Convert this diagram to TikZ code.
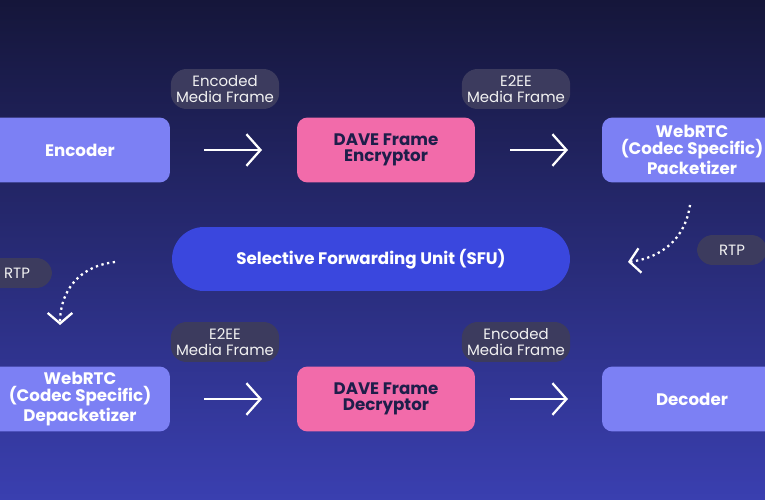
\documentclass[tikz,border=0pt]{standalone}
\usepackage{fontspec}
\setmainfont{Poppins}
\usetikzlibrary{arrows.meta}
\definecolor{navytop}{HTML}{15163A}
\definecolor{navybot}{HTML}{3A3FB0}
\definecolor{lavender}{HTML}{7C80F4}
\definecolor{rosepink}{HTML}{F26BAA}
\definecolor{sfublue}{HTML}{3A47DE}
\definecolor{pillgray}{HTML}{3C3B5E}
\definecolor{inktext}{HTML}{1E1E4A}
\begin{document}
\begin{tikzpicture}[x=0.02cm,y=-0.02cm,
    every node/.style={align=center, font=\bfseries\fontsize{9.5}{9.5}\selectfont},
    stage/.style={fill=lavender, text=white, rounded corners=6pt, minimum height=1.3cm},
    crypto/.style={fill=rosepink, text=inktext, rounded corners=6pt, minimum width=3.56cm, minimum height=1.3cm},
    hub/.style={fill=sfublue, text=white, rounded corners=0.64cm, minimum width=7.96cm, minimum height=1.28cm},
    tag/.style={fill=pillgray, text=white!90!gray, rounded corners=9pt, inner sep=3pt,
      font=\fontsize{8.5}{9}\selectfont},
    flow/.style={white, line width=1.3pt, -{Straight Barb[length=8pt,width=18pt]}},
    hop/.style={white, line width=1.3pt, dotted, -{Straight Barb[length=6pt,width=14pt]}},
    ]
    \clip (0,0) rectangle (765,500);
    \shade[top color=navytop, bottom color=navybot] (0,0) rectangle (765,500);

    % top row
    \node[stage, minimum width=3.6cm] (enc) at (80,150) {Encoder};
    \node[crypto] (encr) at (386,150) {DAVE Frame\\Encryptor};
    \node[stage, minimum width=3.6cm] (pack) at (692,150) {WebRTC\\(Codec Specific)\\Packetizer};
    \node[tag, minimum width=2.1cm, minimum height=0.8cm] (encodedA) at (225,89) {Encoded\\Media Frame};
    \node[tag, minimum width=2.1cm, minimum height=0.8cm] (e2eeA) at (516,89) {E2EE\\Media Frame};

    % middle
    \node[hub] (sfu) at (371,259) {Selective Forwarding Unit (SFU)};
    \node[tag, minimum width=1.4cm, minimum height=0.6cm] (rtpA) at (732,250) {RTP};
    \node[tag, minimum width=1.4cm, minimum height=0.6cm] (rtpB) at (17,273) {RTP};

    % bottom row
    \node[stage, minimum width=3.6cm] (depack) at (80,399) {WebRTC\\(Codec Specific)\\Depacketizer};
    \node[crypto] (decr) at (386,399) {DAVE Frame\\Decryptor};
    \node[stage, minimum width=3.6cm] (dec) at (692,399) {Decoder};
    \node[tag, minimum width=2.1cm, minimum height=0.8cm] (e2eeB) at (225,342) {E2EE\\Media Frame};
    \node[tag, minimum width=2.1cm, minimum height=0.8cm] (encodedB) at (516,342) {Encoded\\Media Frame};

    % connectors
    \coordinate (a1) at (204,150); \coordinate (a2) at (262,150);
    \coordinate (b1) at (510,150); \coordinate (b2) at (568,150);
    \coordinate (c1) at (204,399); \coordinate (c2) at (262,399);
    \coordinate (d1) at (510,399); \coordinate (d2) at (568,399);
    \draw[flow] (a1) -- (a2);
    \draw[flow] (b1) -- (b2);
    \draw[flow] (c1) -- (c2);
    \draw[flow] (d1) -- (d2);
    \coordinate (p1) at (690,205); \coordinate (p2) at (628,262);
    \coordinate (q1) at (115,262); \coordinate (q2) at (60,325);
    \draw[hop] (p1) .. controls (685,240) and (660,258) .. (p2);
    \draw[hop] (q1) .. controls (80,266) and (60,290) .. (q2);
\end{tikzpicture}
\end{document}
